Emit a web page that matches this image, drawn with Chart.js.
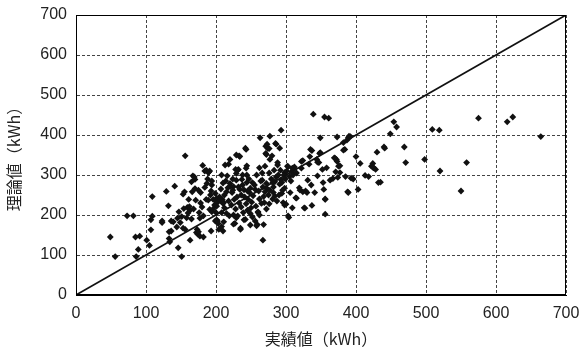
<!DOCTYPE html>
<html>
<head>
<meta charset="utf-8">
<script src="https://cdn.jsdelivr.net/npm/chart.js@4.4.1/dist/chart.umd.min.js"></script>
<style>
  body { margin: 0; background: #fff; }
  canvas { display: block; }
</style>
</head>
<body>
<canvas id="scatterChart" width="583" height="353"></canvas>
<script>
// 実績値 (x) and 理論値 (y)
const actualKwh = [
  49,56,73,82,85,91,86,89,101,105,107,107,109,109,123,123,129,132,133,136,136,139,141,146,144,147,149,151,151,153,
  155,156,158,156,159,161,163,163,166,167,170,172,173,174,176,178,181,182,182,184,186,189,191,193,193,194,196,199,200,201,
  201,202,204,208,209,210,211,212,216,218,220,221,223,225,226,228,229,231,232,233,234,235,237,239,242,242,244,244,246,248,
  250,252,256,259,260,263,266,267,268,269,271,272,274,277,280,281,284,285,288,291,293,294,296,298,300,302,303,306,309,311,
  314,319,322,326,328,330,333,334,335,337,339,341,344,345,347,349,349,352,353,354,355,356,356,358,361,367,369,372,373,377,
  382,384,385,388,389,390,393,400,403,406,413,418,422,424,425,428,430,432,435,440,449,454,458,469,471,498,509,519,520,550,
  558,575,616,624,664,
  382,337,324,345,375,424,441,389,273,276,271,277,286,243,234,231,243,244,288,292,303,308,309,322,348,370,373,377,387,392,
  320,324,315,327,298,304,356,331,336,363,396,374,371,225,227,235,240,249,258,249,260,268,265,282,294,298,272,249,240,
  134,133,145,153,154,162,165,169,170,175,171,175,177,177,186,190,184,189,191,194,187,194,199,201,203,201,203,208,211,215,
  219,213,208,220,225,206,210,215,229,229,229,
  205,212,218,222,228,233,236,238,241,243,245,247,251,253,255,257,261,262,264,267,270,273,275,277,279,282,284,286,289,291,
  293,295,297,299,301,305,307,310,312,315,252,256,262,272,276,281,287,290,214,217,224,232,236,198,196,192,188,180,178,168,
  165,160,210,207,230,245,258,266,262,270,276,283,238,224
];
const theoreticalKwh = [
  145,96,198,198,145,147,96,114,137,124,163,188,197,246,185,181,259,223,141,160,185,183,272,118,170,208,181,96,196,252,
  258,348,193,164,219,239,137,212,258,298,289,156,164,152,206,256,324,145,198,310,239,306,310,260,160,285,239,185,206,235,
  222,185,164,206,239,160,231,218,298,327,339,272,256,177,239,314,193,198,314,348,264,164,289,206,367,189,323,281,239,256,
  218,281,264,176,206,393,287,137,176,231,372,351,366,397,348,281,247,379,331,367,412,281,231,306,227,322,198,256,218,314,
  243,268,317,218,260,256,327,346,364,224,452,256,339,298,331,393,356,314,281,264,445,239,202,318,442,291,343,339,395,306,
  381,364,296,258,393,397,292,346,264,329,299,296,322,329,318,314,357,281,282,370,403,433,420,370,331,339,414,412,310,260,
  331,442,433,445,396,
  362,361,336,332,322,320,367,256,377,366,354,339,377,364,346,312,317,300,325,312,321,308,317,334,354,342,334,323,387,396,
  262,258,242,217,225,194,240,287,275,287,290,294,308,200,179,167,188,175,173,204,208,246,229,256,254,267,279,267,263,
  133,158,192,167,216,221,283,295,266,262,237,158,147,192,312,308,269,237,214,208,279,275,254,242,233,188,179,171,183,204,
  198,325,300,279,271,237,229,258,304,287,350,
  245,250,235,225,215,230,250,275,245,228,212,290,232,248,275,222,260,240,285,270,258,266,250,262,290,270,283,295,300,277,
  288,262,300,290,310,296,285,300,320,305,195,185,200,215,228,240,235,250,285,268,290,270,220,225,215,250,290,220,230,215,
  190,205,280,265,245,260,300,305,318,322,305,312,300,262
];
const tickValues = [0, 100, 200, 300, 400, 500, 600, 700];
const xTitle = '実績値（kWh）';
const yTitle = '理論値（kWh）';

const points = actualKwh.map((x, i) => ({ x: x, y: theoreticalKwh[i] }));

// solid frame around the plot area
const frame = {
  id: 'frame',
  afterDraw(chart) {
    const { ctx, chartArea: a } = chart;
    ctx.save();
    ctx.strokeStyle = '#000';
    ctx.lineWidth = 1;
    ctx.strokeRect(a.left + 0.5, a.top + 0.5, a.right - a.left - 1, a.bottom - a.top - 1);
    ctx.restore();
  }
};

const tickFont = { family: 'Liberation Sans, Arial, sans-serif', size: 16 };
const titleFont = { family: 'Noto Sans CJK JP, sans-serif', size: 16 };

new Chart(document.getElementById('scatterChart').getContext('2d'), {
  type: 'scatter',
  data: {
    datasets: [{
      label: 'data',
      data: points,
      pointStyle: 'rectRot',
      pointRadius: 3.4,
      backgroundColor: '#111',
      borderColor: '#111',
      borderWidth: 0
    }, {
      label: 'y=x',
      type: 'line',
      data: [{ x: 0, y: 0 }, { x: 700, y: 700 }],
      borderColor: '#111',
      borderWidth: 1.7,
      pointRadius: 0
    }]
  },
  options: {
    responsive: false,
    animation: false,
    layout: { padding: { left: 0, right: 17, top: 15, bottom: 0 } },
    plugins: {
      legend: { display: false },
      tooltip: { enabled: false }
    },
    scales: {
      x: {
        min: 0,
        max: 700,
        afterBuildTicks: s => { s.ticks = tickValues.map(v => ({ value: v })); },
        afterFit: s => { s.height = 58; s.paddingLeft = 0; s.paddingRight = 0; },
        ticks: { color: '#222', font: tickFont, padding: 9, maxRotation: 0 },
        grid: { color: '#444', lineWidth: 1, drawTicks: false },
        border: { display: true, color: '#000', dash: [3, 2] },
        title: { display: true, text: xTitle, color: '#222', font: titleFont, padding: { top: 0 } }
      },
      y: {
        min: 0,
        max: 700,
        afterBuildTicks: s => { s.ticks = tickValues.map(v => ({ value: v })); },
        afterFit: s => { s.width = 76; s.paddingTop = 0; s.paddingBottom = 0; },
        ticks: { color: '#222', font: tickFont, padding: 9 },
        grid: { color: '#444', lineWidth: 1, drawTicks: false },
        border: { display: true, color: '#000', dash: [3, 2] },
        title: { display: true, text: yTitle, color: '#222', font: titleFont, padding: { bottom: 3 } }
      }
    }
  },
  plugins: [frame]
});
</script>
</body>
</html>
